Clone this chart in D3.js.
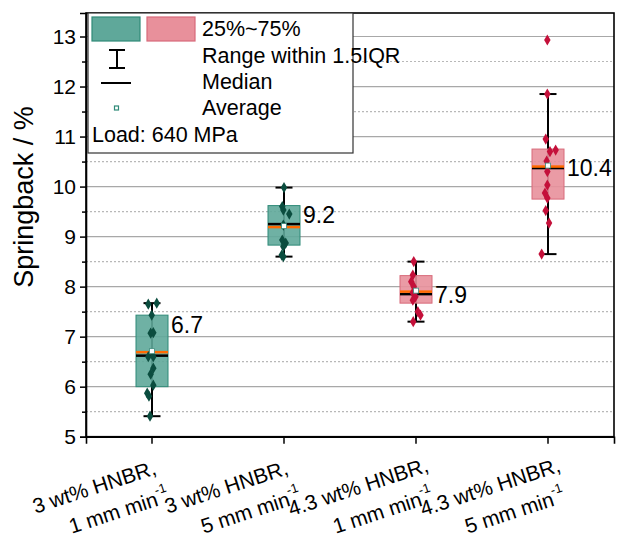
<!DOCTYPE html>
<html>
<head>
<meta charset="utf-8">
<script src="https://cdn.jsdelivr.net/npm/d3@7/dist/d3.min.js"></script>
<style>
  body { margin: 0; background: #fff; }
  svg text { font-family: "Liberation Sans", Arial, sans-serif; fill: #000; }
</style>
</head>
<body>
<svg id="chart" width="620" height="536"></svg>
<script>
// category labels (two lines, second line gets a "-1" superscript)
const labelLine1 = ["3 wt% HNBR,", "3 wt% HNBR,", "4.3 wt% HNBR,", "4.3 wt% HNBR,"];
const labelLine2 = ["1 mm min", "5 mm min", "1 mm min", "5 mm min"];

// box statistics
const q1 = [6.0, 8.83, 7.67, 9.75];
const q3 = [7.43, 9.62, 8.22, 10.75];
const median = [6.62, 9.25, 7.85, 10.37];
const mean = [6.69, 9.19, 7.9, 10.4];
const whiskerLow = [5.41, 8.6, 7.3, 8.65];
const whiskerHigh = [7.67, 9.98, 8.5, 11.85];
const valueLabels = ["6.7", "9.2", "7.9", "10.4"];
const valueLabelAt = [7.2, 9.4, 7.8, 10.33];

// raw points per group, and their horizontal jitter (fraction of band)
const pts1 = [7.65, 7.67, 7.43, 7.07, 7.08, 6.6, 6.6, 6.37, 6.25, 6.03, 5.87, 5.81, 5.41];
const jit1 = [-0.028, 0.036, -0.002, -0.01, 0.01, -0.028, 0.01, 0.01, -0.01, 0.01, -0.036, -0.023, -0.015];
const pts2 = [9.98, 9.6, 9.53, 9.45, 9.23, 8.93, 8.87, 8.8, 8.63, 8.6];
const jit2 = [0, -0.013, -0.005, 0.04, -0.005, -0.013, 0.013, -0.005, -0.017, -0.005];
const pts3 = [8.5, 8.23, 8.1, 8.0, 7.88, 7.8, 7.73, 7.5, 7.43, 7.3];
const jit3 = [-0.017, -0.024, -0.036, -0.017, -0.024, -0.004, -0.024, 0.014, 0.034, -0.021];
const pts4 = [12.93, 11.85, 10.95, 10.7, 10.73, 10.51, 10.3, 10.03, 9.87, 9.77, 9.52, 9.27, 8.65];
const jit4 = [-0.005, -0.005, -0.017, 0.015, 0.058, -0.01, -0.005, -0.005, -0.023, -0.005, -0.017, 0.008, -0.048];

const yTicks = [5, 6, 7, 8, 9, 10, 11, 12, 13];

const boxFill = ["#5fa89a", "#5fa89a", "#e8909b", "#e8909b"];
const boxStroke = ["#2f8a78", "#2f8a78", "#d86a7a", "#d86a7a"];
const dotColor = ["#0b4d3f", "#0b4d3f", "#c4103a", "#c4103a"];

const groups = [0, 1, 2, 3].map(i => ({
  i: i, q1: q1[i], q3: q3[i], med: median[i], mean: mean[i],
  lo: whiskerLow[i], hi: whiskerHigh[i],
  pts: [pts1, pts2, pts3, pts4][i].map((v, k) => ({ v: v, j: [jit1, jit2, jit3, jit4][i][k] }))
}));

const svg = d3.select("#chart");
const pLeft = 86, pRight = 614, pTop = 13, pBottom = 436.7;

const x = d3.scaleBand().domain([0, 1, 2, 3]).range([pLeft, pRight]).padding(0);
const y = d3.scaleLinear().domain([5, 13.47]).range([pBottom, pTop]);
const bw = x.bandwidth();
const boxW = 32, capW = 17;
const cx = i => x(i) + bw / 2;

// grid
const grid = svg.append("g");
grid.selectAll("line.major").data(d3.range(6, 13.5, 1)).enter().append("line")
  .attr("x1", pLeft).attr("x2", pRight)
  .attr("y1", d => y(d)).attr("y2", d => y(d))
  .attr("stroke", "#a8a8a8").attr("stroke-width", 1.2);
grid.selectAll("line.minor").data(d3.range(5.5, 13, 1)).enter().append("line")
  .attr("x1", pLeft).attr("x2", pRight)
  .attr("y1", d => y(d)).attr("y2", d => y(d))
  .attr("stroke", "#b8b8b8").attr("stroke-width", 1.2).attr("stroke-dasharray", "2,2");

// boxes
const g = svg.selectAll("g.box").data(groups).enter().append("g");

g.append("line")
  .attr("x1", d => cx(d.i)).attr("x2", d => cx(d.i))
  .attr("y1", d => y(d.lo)).attr("y2", d => y(d.hi))
  .attr("stroke", "#000").attr("stroke-width", 2);
g.append("rect")
  .attr("x", d => cx(d.i) - boxW / 2).attr("width", boxW)
  .attr("y", d => y(d.q3)).attr("height", d => y(d.q1) - y(d.q3))
  .attr("fill", d => boxFill[d.i]).attr("fill-opacity", 0.9)
  .attr("stroke", d => boxStroke[d.i]).attr("stroke-width", 1);
["lo", "hi"].forEach(k => {
  g.append("line")
    .attr("x1", d => cx(d.i) - capW / 2).attr("x2", d => cx(d.i) + capW / 2)
    .attr("y1", d => y(d[k])).attr("y2", d => y(d[k]))
    .attr("stroke", "#000").attr("stroke-width", 2);
});
g.append("line")
  .attr("x1", d => cx(d.i) - boxW / 2).attr("x2", d => cx(d.i) + boxW / 2)
  .attr("y1", d => y(d.med)).attr("y2", d => y(d.med))
  .attr("stroke", "#000").attr("stroke-width", 2.5);
g.append("line")
  .attr("x1", d => cx(d.i) - boxW / 2).attr("x2", d => cx(d.i) + boxW / 2)
  .attr("y1", d => y(d.mean)).attr("y2", d => y(d.mean))
  .attr("stroke", "#ff6a00").attr("stroke-width", 2.5);

// data points (diamonds)
const diamond = d3.symbol().type(d3.symbolDiamond).size(36);
g.each(function (d) {
  d3.select(this).selectAll("path.pt").data(d.pts).enter().append("path")
    .attr("d", diamond)
    .attr("transform", p => "translate(" + (cx(d.i) + p.j * bw) + "," + y(p.v) + ")")
    .attr("fill", dotColor[d.i]);
});

// mean markers
g.append("rect")
  .attr("x", d => cx(d.i) - 2.5).attr("y", d => y(d.mean) - 3.5)
  .attr("width", 5).attr("height", 5)
  .attr("fill", "#fff").attr("stroke", "#3d8c7d").attr("stroke-width", 0.8);

// value labels
g.append("text")
  .attr("x", d => cx(d.i) + boxW / 2 + 3)
  .attr("y", d => y(valueLabelAt[d.i]))
  .attr("dominant-baseline", "middle")
  .style("font-size", "23px")
  .text(d => valueLabels[d.i]);

// frame
svg.append("rect")
  .attr("x", pLeft).attr("y", pTop).attr("width", pRight - pLeft).attr("height", pBottom - pTop)
  .attr("fill", "none").attr("stroke", "#000").attr("stroke-width", 1.6);

// y axis
const yAxis = d3.axisLeft(y).tickValues(yTicks).tickSize(6).tickPadding(4).tickFormat(d3.format("d"));
const ya = svg.append("g").attr("transform", "translate(" + pLeft + ",0)").call(yAxis);
ya.select(".domain").attr("stroke-width", 1.6);
ya.selectAll(".tick line").attr("stroke-width", 1.5);
ya.selectAll(".tick text").style("font-size", "21px").style("font-family", "Liberation Sans, Arial, sans-serif");
const yMinor = d3.axisLeft(y).tickValues(d3.range(5.5, 13, 1)).tickSize(4).tickFormat("");
const ym = svg.append("g").attr("transform", "translate(" + pLeft + ",0)").call(yMinor);
ym.select(".domain").remove();
ym.selectAll(".tick line").attr("stroke-width", 1.5);

svg.append("text")
  .attr("transform", "translate(26,197) rotate(-90)")
  .attr("text-anchor", "middle").attr("dominant-baseline", "middle")
  .style("font-size", "27px")
  .text("Springback / %");

// x axis
const xAxis = d3.axisBottom(x).tickSize(7).tickFormat("");
const xa = svg.append("g").attr("transform", "translate(0," + pBottom + ")").call(xAxis);
xa.select(".domain").attr("stroke-width", 1.6);
xa.selectAll(".tick line").attr("stroke-width", 1.5);

const xl = svg.selectAll("g.xl").data([0, 1, 2, 3]).enter().append("g")
  .attr("transform", i => "translate(" + cx(i) + "," + (pBottom + 8) + ") rotate(-18)");
xl.append("text")
  .attr("x", -68).attr("y", 24)
  .attr("text-anchor", "middle").attr("dominant-baseline", "middle")
  .style("font-size", "21px")
  .text(i => labelLine1[i]);
const l2 = xl.append("text")
  .attr("x", -52).attr("y", 54)
  .attr("text-anchor", "middle").attr("dominant-baseline", "middle")
  .style("font-size", "21px");
l2.append("tspan").text(i => labelLine2[i]);
l2.append("tspan").attr("dy", -8).style("font-size", "13px").text("-1");

// legend
const lg = svg.append("g");
lg.append("rect").attr("x", 88).attr("y", 13).attr("width", 265).attr("height", 140)
  .attr("fill", "#fff").attr("stroke", "#333").attr("stroke-width", 1.2);
lg.append("rect").attr("x", 92).attr("y", 17).attr("width", 48).attr("height", 24)
  .attr("fill", boxFill[0]).attr("stroke", boxStroke[0]).attr("stroke-width", 1.2);
lg.append("rect").attr("x", 147).attr("y", 17).attr("width", 48).attr("height", 24)
  .attr("fill", boxFill[2]).attr("stroke", boxStroke[2]).attr("stroke-width", 1.2);
lg.append("line").attr("x1", 117).attr("x2", 117).attr("y1", 50).attr("y2", 68).attr("stroke", "#000").attr("stroke-width", 2);
lg.append("line").attr("x1", 109).attr("x2", 125).attr("y1", 50).attr("y2", 50).attr("stroke", "#000").attr("stroke-width", 2);
lg.append("line").attr("x1", 109).attr("x2", 125).attr("y1", 68).attr("y2", 68).attr("stroke", "#000").attr("stroke-width", 2);
lg.append("line").attr("x1", 101).attr("x2", 131).attr("y1", 83).attr("y2", 83).attr("stroke", "#000").attr("stroke-width", 2);
lg.append("rect").attr("x", 114.5).attr("y", 106).attr("width", 4).attr("height", 4)
  .attr("fill", "#fff").attr("stroke", "#2f8a78").attr("stroke-width", 1.2);
const legendText = [["25%~75%", 202, 30], ["Range within 1.5IQR", 202, 57], ["Median", 202, 83], ["Average", 202, 109], ["Load: 640 MPa", 92, 136]];
lg.selectAll("text.lt").data(legendText).enter().append("text")
  .attr("x", d => d[1]).attr("y", d => d[2])
  .attr("dominant-baseline", "middle")
  .style("font-size", "21.5px")
  .text(d => d[0]);
</script>
</body>
</html>
